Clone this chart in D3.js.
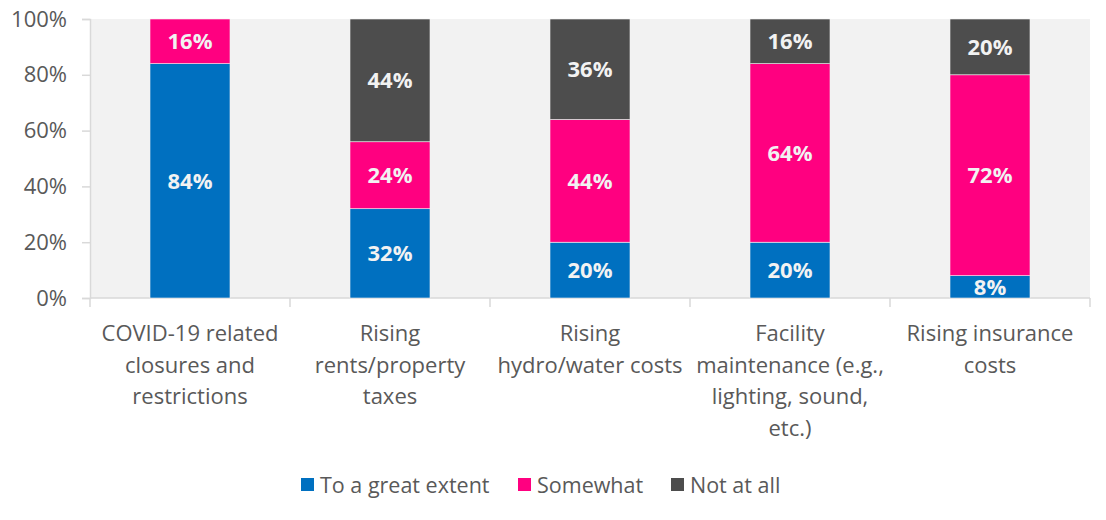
<!DOCTYPE html>
<html lang="en">
<head>
<meta charset="utf-8">
<title>stacked bars</title>
<script src="https://cdn.jsdelivr.net/npm/d3@7"></script>
<style>
  body { margin: 0; background: #fff; }
  text { font-family: "Open Sans", "Noto Sans", sans-serif; }
</style>
</head>
<body>
<div id="chart"></div>
<script>
// data
var categories = [
  ["COVID-19 related", "closures and", "restrictions"],
  ["Rising", "rents/property", "taxes"],
  ["Rising", "hydro/water costs"],
  ["Facility", "maintenance (e.g.,", "lighting, sound,", "etc.)"],
  ["Rising insurance", "costs"]
];
var seriesNames = ["To a great extent", "Somewhat", "Not at all"];
var greatExtent = [84, 32, 20, 20, 8];
var somewhat = [16, 24, 44, 64, 72];
var notAtAll = [0, 44, 36, 16, 20];
var yTicks = [0, 20, 40, 60, 80, 100];
var colors = ["#0070C0", "#FF0080", "#4D4D4D"];

var W = 1106, H = 520;
var margin = {top: 19, right: 16, bottom: 222, left: 90};
var width = W - margin.left - margin.right,
    height = H - margin.top - margin.bottom;

var rows = categories.map(function(c, i) {
  return {i: i, s0: greatExtent[i], s1: somewhat[i], s2: notAtAll[i]};
});
var stack = d3.stack().keys(["s0", "s1", "s2"]);
var layers = stack(rows);

var svg = d3.select("#chart").append("svg")
  .attr("width", W).attr("height", H);
var g = svg.append("g")
  .attr("transform", "translate(" + margin.left + "," + margin.top + ")");

var x = d3.scaleBand().domain(d3.range(categories.length)).range([0, width]).paddingInner(0).paddingOuter(0);
var y = d3.scaleLinear().domain([0, 100]).range([height, 0]);
var barW = x.bandwidth() * 0.4;

// plot background
g.append("rect").attr("x", 0).attr("y", 0)
  .attr("width", width).attr("height", height).attr("fill", "#F2F2F2");

// y axis
var yAxis = g.append("g").call(d3.axisLeft(y).tickValues(yTicks)
  .tickFormat(function(d) { return d + "%"; }).tickSize(8).tickPadding(15));
yAxis.select(".domain").attr("stroke", "#D9D9D9").attr("stroke-width", 1.5);
yAxis.selectAll(".tick line").attr("stroke", "#D9D9D9").attr("stroke-width", 1.5);
yAxis.selectAll(".tick text").attr("fill", "#595959")
  .style("font-size", "22px").style("font-family", "'Open Sans', sans-serif");

// x axis line and boundary ticks
g.append("line").attr("x1", 0).attr("x2", width)
  .attr("y1", height).attr("y2", height)
  .attr("stroke", "#D9D9D9").attr("stroke-width", 1.5);
g.selectAll(".xtick").data(d3.range(categories.length + 1)).enter()
  .append("line")
  .attr("x1", function(d) { return d * x.step(); })
  .attr("x2", function(d) { return d * x.step(); })
  .attr("y1", height).attr("y2", height + 9)
  .attr("stroke", "#D9D9D9").attr("stroke-width", 1.5);

// bars
var layerG = g.selectAll(".layer").data(layers).enter()
  .append("g").attr("fill", function(d, i) { return colors[i]; });
layerG.selectAll("rect").data(function(d) { return d; }).enter()
  .append("rect")
  .attr("x", function(d) { return x(d.data.i) + (x.bandwidth() - barW) / 2; })
  .attr("y", function(d) { return y(d[1]); })
  .attr("width", barW)
  .attr("height", function(d) { return y(d[0]) - y(d[1]); })
  .attr("stroke", "#F2F2F2").attr("stroke-width", 0.6);

// value labels
layerG.selectAll("text").data(function(d) { return d.filter(function(p) { return p[1] - p[0] > 0; }); }).enter()
  .append("text")
  .attr("x", function(d) { return x(d.data.i) + x.bandwidth() / 2; })
  .attr("y", function(d) { return y((d[0] + d[1]) / 2); })
  .attr("dy", "0.36em")
  .attr("text-anchor", "middle")
  .attr("fill", "#F2F2F2")
  .style("font-size", "22px").style("font-weight", 700)
  .text(function(d) { return (d[1] - d[0]) + "%"; });

// category labels
var catG = g.selectAll(".cat").data(categories).enter()
  .append("text")
  .attr("text-anchor", "middle")
  .attr("fill", "#595959")
  .style("font-size", "22px")
  .attr("transform", function(d, i) { return "translate(" + (x(i) + x.bandwidth() / 2) + "," + (height + 43) + ")"; });
catG.selectAll("tspan").data(function(d) { return d; }).enter()
  .append("tspan")
  .attr("x", 0)
  .attr("y", function(d, i) { return i * 31.5; })
  .text(function(d) { return d; });

// legend
var legendX = [301, 518, 671];
var legend = svg.selectAll(".legend").data(seriesNames).enter()
  .append("g")
  .attr("transform", function(d, i) { return "translate(" + legendX[i] + ",478)"; });
legend.append("rect").attr("width", 13).attr("height", 13)
  .attr("fill", function(d, i) { return colors[i]; });
legend.append("text").attr("x", 19).attr("y", 7).attr("dy", "0.36em")
  .attr("fill", "#595959").style("font-size", "21.5px")
  .text(function(d) { return d; });
</script>
</body>
</html>
